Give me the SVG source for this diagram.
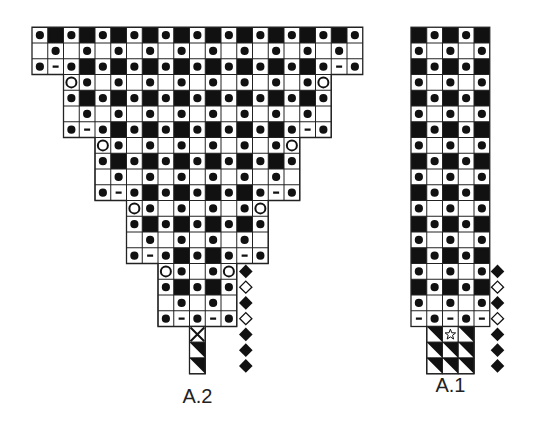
<svg xmlns="http://www.w3.org/2000/svg" xmlns:xlink="http://www.w3.org/1999/xlink" width="550" height="422" viewBox="0 0 550 422">
<defs>
<style>
.bk{fill:none;stroke:#111;stroke-width:15.75;stroke-dasharray:15.75 15.75}
.dt{fill:none;stroke:#111;stroke-width:8.2;stroke-linecap:round;stroke-dasharray:0 31.5}
.grid{fill:none;stroke:#222;stroke-width:1}
.outline{fill:none;stroke:#222;stroke-width:1.3}
.cell{fill:#fff;stroke:#222;stroke-width:1}
.dm{fill:none;stroke:#111;stroke-width:2.4}
.ring{fill:none;stroke:#111;stroke-width:2}
.lbl{font-family:"Liberation Sans",Arial,sans-serif;font-size:20px;fill:#222;text-anchor:middle}
</style>
<g id="tri"><rect class="cell" width="15.75" height="15.75"/><polygon points="0,0 15.75,0 15.75,15.75" fill="#111"/></g>
<path id="dfill" d="M0 -6.8L6.8 0 0 6.8 -6.8 0Z" fill="#111"/>
<path id="dhol" d="M0 -6L6 0 0 6 -6 0Z" fill="#fff" stroke="#111" stroke-width="1.4"/>
</defs>
<rect width="550" height="422" fill="#fff"/>

<g id="chart-A2">
<polygon points="32,27.25 362.75,27.25 362.75,74.5 331.25,74.5 331.25,137.5 299.75,137.5 299.75,200.5 268.25,200.5 268.25,263.5 236.75,263.5 236.75,326.5 158,326.5 158,263.5 126.5,263.5 126.5,200.5 95,200.5 95,137.5 63.5,137.5 63.5,74.5 32,74.5" fill="#fff"/>
<g id="A2-black">
<path class="bk" d="M47.75 35.125H347"/>
<path class="bk" d="M79.25 66.625H315.5"/>
<path class="bk" d="M79.25 98.125H315.5"/>
<path class="bk" d="M110.75 129.625H284"/>
<path class="bk" d="M110.75 161.125H284"/>
<path class="bk" d="M142.25 192.625H252.5"/>
<path class="bk" d="M142.25 224.125H252.5"/>
<path class="bk" d="M173.75 255.625H221"/>
<path class="bk" d="M173.75 287.125H221"/>
</g>
<path class="grid" d="M32 43H362.75M32 58.75H362.75M32 74.5H362.75M63.5 90.25H331.25M63.5 106H331.25M63.5 121.75H331.25M63.5 137.5H331.25M95 153.25H299.75M95 169H299.75M95 184.75H299.75M95 200.5H299.75M126.5 216.25H268.25M126.5 232H268.25M126.5 247.75H268.25M126.5 263.5H268.25M158 279.25H236.75M158 295H236.75M158 310.75H236.75M158 326.5H236.75M189.5 342.25H205.25M189.5 358H205.25M47.75 27.25V74.5M63.5 27.25V137.5M79.25 27.25V137.5M95 27.25V200.5M110.75 27.25V200.5M126.5 27.25V263.5M142.25 27.25V263.5M158 27.25V326.5M173.75 27.25V326.5M189.5 27.25V373.75M205.25 27.25V373.75M221 27.25V326.5M236.75 27.25V326.5M252.5 27.25V263.5M268.25 27.25V263.5M284 27.25V200.5M299.75 27.25V200.5M315.5 27.25V137.5M331.25 27.25V137.5M347 27.25V74.5"/>
<g id="A2-dots">
<path class="dt" d="M39.875 35.125H355.5"/>
<path class="dt" d="M55.625 50.875H339.7"/>
<path class="dt" d="M39.875 66.625H355.5"/>
<path class="dt" d="M87.125 82.375H308.2"/>
<path class="dt" d="M71.375 98.125H324"/>
<path class="dt" d="M87.125 113.875H308.2"/>
<path class="dt" d="M71.375 129.625H324"/>
<path class="dt" d="M118.625 145.375H276.7"/>
<path class="dt" d="M102.875 161.125H292.5"/>
<path class="dt" d="M118.625 176.875H276.7"/>
<path class="dt" d="M102.875 192.625H292.5"/>
<path class="dt" d="M150.125 208.375H245.2"/>
<path class="dt" d="M134.375 224.125H261"/>
<path class="dt" d="M150.125 239.875H245.2"/>
<path class="dt" d="M134.375 255.625H261"/>
<path class="dt" d="M181.625 271.375H213.7"/>
<path class="dt" d="M165.875 287.125H229.5"/>
<path class="dt" d="M181.625 302.875H213.7"/>
<path class="dt" d="M165.875 318.625H229.5"/>
</g>
<path class="dm" d="M52.625 66.625h6M336.125 66.625h6M84.125 129.625h6M304.625 129.625h6M115.625 192.625h6M273.125 192.625h6M147.125 255.625h6M241.625 255.625h6M178.625 318.625h6M210.125 318.625h6"/>
<g id="A2-rings">
<circle class="ring" cx="71.375" cy="82.375" r="5"/><circle class="ring" cx="323.375" cy="82.375" r="5"/>
<circle class="ring" cx="102.875" cy="145.375" r="5"/><circle class="ring" cx="291.875" cy="145.375" r="5"/>
<circle class="ring" cx="134.375" cy="208.375" r="5"/><circle class="ring" cx="260.375" cy="208.375" r="5"/>
<circle class="ring" cx="165.875" cy="271.375" r="5"/><circle class="ring" cx="228.875" cy="271.375" r="5"/>
</g>
<polygon class="outline" points="32,27.25 362.75,27.25 362.75,74.5 331.25,74.5 331.25,137.5 299.75,137.5 299.75,200.5 268.25,200.5 268.25,263.5 236.75,263.5 236.75,326.5 158,326.5 158,263.5 126.5,263.5 126.5,200.5 95,200.5 95,137.5 63.5,137.5 63.5,74.5 32,74.5"/>
<g id="A2-stem">
<rect class="cell" x="189.5" y="326.5" width="15.75" height="15.75"/>
<path d="M190.5 327.5L204.25 341.25M204.25 327.5L190.5 341.25" stroke="#111" stroke-width="2"/>
<use xlink:href="#tri" x="189.5" y="342.25"/>
<use xlink:href="#tri" x="189.5" y="358"/>
<rect class="outline" x="189.5" y="326.5" width="15.75" height="47.25"/>
</g>
<g id="A2-diamonds">
<use xlink:href="#dfill" x="245.8" y="271.375"/>
<use xlink:href="#dhol" x="245.8" y="287.125"/>
<use xlink:href="#dfill" x="245.8" y="302.875"/>
<use xlink:href="#dhol" x="245.8" y="318.625"/>
<use xlink:href="#dfill" x="245.8" y="334.375"/>
<use xlink:href="#dfill" x="245.8" y="350.125"/>
<use xlink:href="#dfill" x="245.8" y="365.875"/>
</g>
<text class="lbl" x="197.4" y="403">A.2</text>
</g>

<g id="chart-A1">
<rect x="411" y="27.25" width="78.75" height="299.25" fill="#fff"/>
<g id="A1-black">
<path class="bk" d="M418.875 27.25V310.75"/>
<path class="bk" d="M450.375 27.25V310.75"/>
<path class="bk" d="M481.875 27.25V310.75"/>
</g>
<path class="grid" d="M411 43H489.75M411 58.75H489.75M411 74.5H489.75M411 90.25H489.75M411 106H489.75M411 121.75H489.75M411 137.5H489.75M411 153.25H489.75M411 169H489.75M411 184.75H489.75M411 200.5H489.75M411 216.25H489.75M411 232H489.75M411 247.75H489.75M411 263.5H489.75M411 279.25H489.75M411 295H489.75M411 310.75H489.75M426.75 342.25H474M426.75 358H474M426.75 27.25V373.75M442.5 27.25V373.75M458.25 27.25V373.75M474 27.25V373.75"/>
<g id="A1-dots">
<path class="dt" d="M434.625 35.125V319.3"/>
<path class="dt" d="M466.125 35.125V319.3"/>
<path class="dt" d="M418.875 50.875V303.5"/>
<path class="dt" d="M450.375 50.875V303.5"/>
<path class="dt" d="M481.875 50.875V303.5"/>
</g>
<path class="dm" d="M415.875 318.625h6M447.375 318.625h6M478.875 318.625h6"/>
<rect class="outline" x="411" y="27.25" width="78.75" height="299.25"/>
<g id="A1-stem">
<use xlink:href="#tri" x="426.75" y="326.5"/>
<rect class="cell" x="442.5" y="326.5" width="15.75" height="15.75"/>
<polygon transform="translate(450.375 334.6)" points="0,-5.5 1.35,-1.86 5.23,-1.7 2.19,0.71 3.23,4.45 0,2.3 -3.23,4.45 -2.19,0.71 -5.23,-1.7 -1.35,-1.86" fill="#fff" stroke="#111" stroke-width="1"/>
<use xlink:href="#tri" x="458.25" y="326.5"/>
<use xlink:href="#tri" x="426.75" y="342.25"/><use xlink:href="#tri" x="442.5" y="342.25"/><use xlink:href="#tri" x="458.25" y="342.25"/>
<use xlink:href="#tri" x="426.75" y="358"/><use xlink:href="#tri" x="442.5" y="358"/><use xlink:href="#tri" x="458.25" y="358"/>
<rect class="outline" x="426.75" y="326.5" width="47.25" height="47.25"/>
</g>
<g id="A1-diamonds">
<use xlink:href="#dfill" x="497.5" y="271.375"/>
<use xlink:href="#dhol" x="497.5" y="287.125"/>
<use xlink:href="#dfill" x="497.5" y="302.875"/>
<use xlink:href="#dhol" x="497.5" y="318.625"/>
<use xlink:href="#dfill" x="497.5" y="334.375"/>
<use xlink:href="#dfill" x="497.5" y="350.125"/>
<use xlink:href="#dfill" x="497.5" y="365.875"/>
</g>
<text class="lbl" x="450.4" y="392">A.1</text>
</g>
</svg>
